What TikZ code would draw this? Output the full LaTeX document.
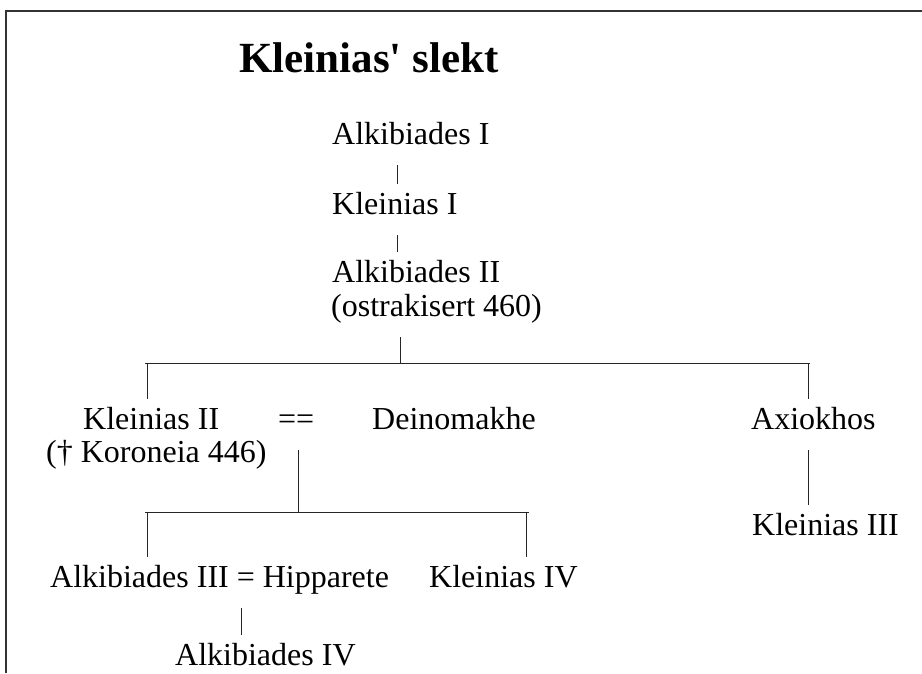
\documentclass[tikz,border=0pt]{standalone}
\usepackage{fontspec}
\setmainfont{Liberation Serif}
\usetikzlibrary{positioning}

\newcommand{\personfont}{\fontsize{32}{36}\selectfont}
\newcommand{\titlefont}{\fontsize{43}{47}\selectfont\bfseries}

\begin{document}
\begin{tikzpicture}[
  x=1pt, y=-1pt,
  person/.style={anchor=base west, inner sep=0pt, text height=30pt, text depth=21pt,
    font=\personfont, text=black},
  heading/.style={anchor=base west, inner sep=0pt, font=\titlefont},
  kin/.style={draw=black!85, line width=0.9pt},
  frame/.style={draw=black!80, line width=1.4pt}
]
  \useasboundingbox (0,0) rectangle (922,673);

  % Frame (top and left edge only)
  \draw[frame] (6,673) -- (6,11) -- (922,11);

  % Title
  \node[heading] (title) at (239,72) {Kleinias\textquotesingle\ slekt};

  % Generations 1--3 (fixed positions, pixel grid)
  \node[person] (a1)  at (332,144) {Alkibiades I};
  \node[person] (k1)  at (332,214) {Kleinias I};
  \node[person] (a2)  at (332,282) {Alkibiades II};
  \node[person] (a2n) at (331,316) {(ostrakisert 460)};

  % Generation 4
  \node[person] (k2)  at (83,429)  {Kleinias II};
  \node[person] (k2n) at (46,462)  {(† Koroneia 446)};
  \node[person] (wed) at (278,429) {==};
  \node[person] (dm)  at (372,429) {Deinomakhe};
  \node[person] (ax)  at (751,429) {Axiokhos};
  \node[person] (k3)  at (752,535) {Kleinias III};

  % Generations 5--6
  \node[person] (a3)  at (50,587)  {Alkibiades III = Hipparete};
  \node[person] (k4)  at (429,587) {Kleinias IV};
  \node[person] (a4)  at (175,665) {Alkibiades IV};

  % Sibling bars
  \coordinate (bar1w) at (145,363);
  \coordinate (bar1e) at (810,363);
  \coordinate (bar2w) at (145,512);
  \coordinate (bar2e) at (529,512);
  \draw[kin] (bar1w) -- (bar1e);
  \draw[kin] (bar2w) -- (bar2e);

  % Descent lines
  \draw[kin] ([xshift=65pt]a1.south west) -- ([xshift=65pt]a1.south west |- k1.north);
  \draw[kin] ([xshift=65pt]k1.south west) -- ([xshift=65pt]k1.south west |- a2.north);
  \draw[kin] ([xshift=69pt]a2n.south west) -- ([xshift=69pt]a2n.south west |- bar1w);
  \draw[kin] ([xshift=64pt]k2.north west |- bar1w) -- ([xshift=64pt]k2.north west);
  \draw[kin] ([xshift=57pt]ax.north west |- bar1e) -- ([xshift=57pt]ax.north west);
  \draw[kin] ([xshift=57pt]ax.south west) -- ([xshift=57pt]ax.south west |- k3.north);
  \draw[kin] ([xshift=20pt]wed.south west) -- ([xshift=20pt]wed.south west |- bar2w);
  \draw[kin] ([xshift=97pt]a3.north west |- bar2w) -- ([xshift=97pt]a3.north west);
  \draw[kin] ([xshift=97pt]k4.north west |- bar2e) -- ([xshift=97pt]k4.north west);
  \draw[kin] ([xshift=191pt]a3.south west) -- ([xshift=191pt]a3.south west |- a4.north);

\end{tikzpicture}
\end{document}
